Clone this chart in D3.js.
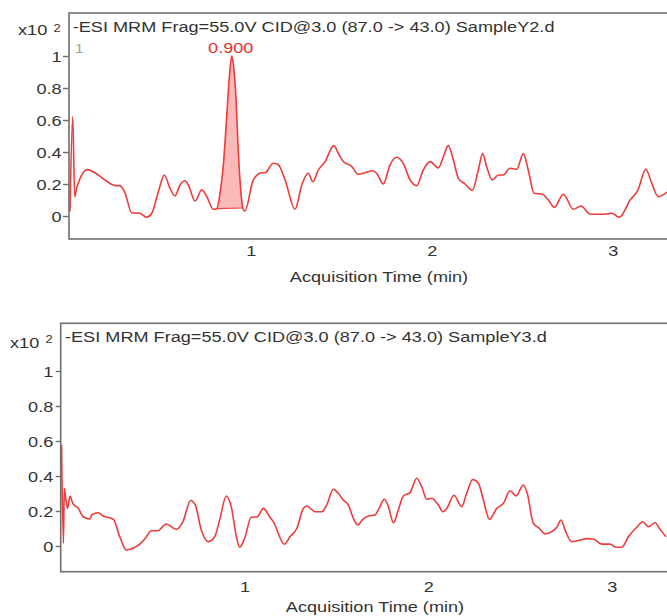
<!DOCTYPE html>
<html>
<head>
<meta charset="utf-8">
<script src="https://cdn.jsdelivr.net/npm/d3@7"></script>
<style>
  body { margin: 0; background: #fff; }
  svg text { font-family: "Liberation Sans", Arial, sans-serif; fill: #333; }
</style>
</head>
<body>
<div id="chart"></div>
<script>
// acquisition time (min) and abundance (x10^2 counts) for each sample
const timeY2 = [0.000, 0.015, 0.026, 0.037, 0.097, 0.138, 0.193, 0.249, 0.276, 0.304,
  0.341, 0.387, 0.424, 0.452, 0.488, 0.521, 0.553, 0.580, 0.608, 0.636,
  0.658, 0.691, 0.728, 0.756, 0.792, 0.811, 0.829, 0.847, 0.866, 0.881,
  0.894, 0.903, 0.918, 0.930, 0.944, 0.955, 0.967, 1.013, 1.060, 1.078,
  1.124, 1.152, 1.189, 1.244, 1.281, 1.317, 1.342, 1.373, 1.410, 1.459,
  1.483, 1.511, 1.557, 1.594, 1.631, 1.668, 1.695, 1.732, 1.769, 1.806,
  1.842, 1.880, 1.917, 1.953, 1.990, 2.036, 2.064, 2.091, 2.119, 2.147,
  2.184, 2.224, 2.257, 2.281, 2.303, 2.334, 2.368, 2.395, 2.432, 2.469,
  2.506, 2.533, 2.565, 2.611, 2.644, 2.677, 2.727, 2.782, 2.825, 2.874,
  2.920, 2.967, 2.995, 3.037, 3.096, 3.138, 3.183, 3.216, 3.252, 3.300];
const valueY2 = [0.03, 0.62, 0.12, 0.175, 0.29, 0.27, 0.225, 0.19, 0.19, 0.145,
  0.02, 0.017, -0.008, 0.017, 0.15, 0.256, 0.173, 0.125, 0.194, 0.22,
  0.183, 0.094, 0.163, 0.121, 0.042, 0.046, 0.14, 0.31, 0.62, 0.87,
  1.0, 0.95, 0.725, 0.41, 0.16, 0.05, 0.031, 0.225, 0.27, 0.27,
  0.33, 0.32, 0.225, 0.042, 0.194, 0.267, 0.215, 0.288, 0.34, 0.44,
  0.392, 0.34, 0.31, 0.26, 0.27, 0.283, 0.267, 0.2, 0.32, 0.367,
  0.329, 0.225, 0.19, 0.288, 0.34, 0.3, 0.37, 0.44, 0.35, 0.235,
  0.2, 0.16, 0.288, 0.39, 0.308, 0.225, 0.256, 0.256, 0.298, 0.292,
  0.39, 0.288, 0.142, 0.136, 0.1, 0.054, 0.136, 0.042, 0.0625, 0.0125,
  0.011, 0.0125, 0.017, -0.008, 0.1, 0.158, 0.292, 0.204, 0.121, 0.15];

const timeY3 = [0.003, 0.013, 0.018, 0.027, 0.036, 0.049, 0.064, 0.094, 0.121, 0.158,
  0.167, 0.203, 0.230, 0.285, 0.320, 0.356, 0.392, 0.429, 0.459, 0.492,
  0.528, 0.573, 0.628, 0.664, 0.706, 0.731, 0.764, 0.801, 0.837, 0.864,
  0.900, 0.927, 0.955, 0.973, 1.000, 1.036, 1.069, 1.102, 1.138, 1.156,
  1.216, 1.247, 1.284, 1.320, 1.338, 1.383, 1.420, 1.447, 1.483, 1.510,
  1.537, 1.565, 1.592, 1.616, 1.641, 1.674, 1.710, 1.732, 1.761, 1.783,
  1.810, 1.837, 1.864, 1.901, 1.937, 1.964, 1.992, 2.019, 2.055, 2.079,
  2.101, 2.140, 2.182, 2.209, 2.242, 2.273, 2.300, 2.333, 2.373, 2.409,
  2.445, 2.478, 2.518, 2.539, 2.572, 2.605, 2.636, 2.672, 2.700, 2.723,
  2.745, 2.781, 2.817, 2.863, 2.899, 2.945, 2.990, 3.021, 3.054, 3.090,
  3.135, 3.168, 3.198, 3.235, 3.262, 3.295];
const valueY3 = [0.577, 0.015, 0.33, 0.26, 0.215, 0.286, 0.244, 0.215, 0.167, 0.154,
  0.177, 0.19, 0.171, 0.153, 0.053, -0.023, -0.013, 0.011, 0.044, 0.087,
  0.087, 0.126, 0.095, 0.139, 0.26, 0.235, 0.091, 0.025, 0.053, 0.149,
  0.286, 0.225, 0.053, -0.007, 0.044, 0.164, 0.167, 0.215, 0.164, 0.139,
  0.011, 0.053, 0.1, 0.215, 0.229, 0.196, 0.196, 0.234, 0.324, 0.301,
  0.263, 0.234, 0.158, 0.12, 0.149, 0.171, 0.177, 0.215, 0.267, 0.225,
  0.133, 0.206, 0.286, 0.305, 0.387, 0.339, 0.267, 0.273, 0.234, 0.196,
  0.215, 0.29, 0.225, 0.301, 0.38, 0.358, 0.263, 0.152, 0.215, 0.244,
  0.316, 0.286, 0.349, 0.301, 0.13, 0.101, 0.069, 0.082, 0.107, 0.149,
  0.091, 0.025, 0.031, 0.042, 0.04, 0.011, 0.011, -0.007, -0.007, 0.053,
  0.107, 0.139, 0.11, 0.133, 0.095, 0.053];

const yTicks = [0, 0.2, 0.4, 0.6, 0.8, 1];
const xTicks = [1, 2, 3];
const titleY2 = "-ESI MRM Frag=55.0V CID@3.0 (87.0 -> 43.0) SampleY2.d";
const titleY3 = "-ESI MRM Frag=55.0V CID@3.0 (87.0 -> 43.0) SampleY3.d";

// integrated peak in SampleY2
const peakStart = 0.811, peakEnd = 0.955;
const peakBase = [0.046, 0.05];
const peakTime = 0.894;
const peakLabel = "0.900";

const SX = 1.17; // the original picture is stretched sideways a bit
const FONT = 15.5;

const svg = d3.select("#chart")
  .append("svg")
  .attr("width", 667)
  .attr("height", 616);

function stretchText(g, x, y, str, size, anchor, color) {
  return g.append("text")
    .attr("transform", "translate(" + x + "," + y + ") scale(" + SX + ",1)")
    .attr("text-anchor", anchor || "start")
    .style("font-size", size + "px")
    .style("fill", color || "#333")
    .text(str);
}

function drawPanel(p) {
  let x = d3.scaleLinear().domain([0, 3.3]).range([p.x0, 667]);
  let y = d3.scaleLinear().domain([0, 1]).range([p.yZero, p.yOne]);
  let data = p.times.map((t, i) => ({ t: t, v: p.values[i] }));

  let g = svg.append("g");

  g.append("clipPath")
    .attr("id", "clip" + p.id)
    .append("rect")
    .attr("x", p.left)
    .attr("y", p.top)
    .attr("width", 700 - p.left)
    .attr("height", p.bottom - p.top);

  let plot = g.append("g").attr("clip-path", "url(#clip" + p.id + ")");

  let line = d3.line()
    .x((d) => x(d.t))
    .y((d) => y(d.v))
    .curve(d3.curveMonotoneX);

  if (p.peak) {
    let base = (t) => peakBase[0] + (peakBase[1] - peakBase[0]) * (t - peakStart) / (peakEnd - peakStart);
    let peakData = data.filter((d) => d.t >= peakStart && d.t <= peakEnd);
    let area = d3.area()
      .x((d) => x(d.t))
      .y0((d) => y(base(d.t)))
      .y1((d) => y(d.v))
      .curve(d3.curveMonotoneX);
    plot.append("path")
      .datum(peakData)
      .attr("d", area)
      .attr("fill", "#f9b9b9");
    plot.append("line")
      .attr("x1", x(peakStart)).attr("y1", y(peakBase[0]))
      .attr("x2", x(peakEnd)).attr("y2", y(peakBase[1]))
      .attr("stroke", "#ee4545")
      .attr("stroke-width", 1.2);
  }

  plot.append("path")
    .datum(data)
    .attr("d", line)
    .attr("fill", "none")
    .attr("stroke", "#ee3b3b")
    .attr("stroke-width", 1.6);

  // frame (right side runs off the picture)
  g.append("rect")
    .attr("x", p.left)
    .attr("y", p.top)
    .attr("width", 720 - p.left)
    .attr("height", p.bottom - p.top)
    .attr("fill", "none")
    .attr("stroke", "#6e6e6e")
    .attr("stroke-width", 1.6);

  let yAxis = g.append("g")
    .attr("transform", "translate(" + p.left + ",0)")
    .call(d3.axisLeft(y).tickValues(yTicks).tickSize(p.tick).tickFormat((d) => String(d)));
  yAxis.select(".domain").remove();
  yAxis.selectAll("line").attr("stroke", "#6e6e6e").attr("stroke-width", 1.4);
  yAxis.selectAll("text")
    .attr("x", 0)
    .attr("dy", "0.36em")
    .attr("transform", "translate(" + (-p.yGap) + ",0) scale(" + SX + ",1)")
    .style("font-size", FONT + "px");

  let xAxis = g.append("g")
    .attr("transform", "translate(0," + p.bottom + ")")
    .call(d3.axisBottom(x).tickValues(xTicks).tickSize(0).tickFormat((d) => String(d)));
  xAxis.select(".domain").remove();
  xAxis.selectAll("text")
    .attr("y", p.xLabelY)
    .attr("dy", 0)
    .attr("transform", "scale(" + SX + ",1)")
    .style("font-size", FONT + "px");

  stretchText(g, p.axisTitleX, p.axisTitleY, "Acquisition Time (min)", FONT, "middle");
  stretchText(g, p.left + p.titleDx, p.titleY, p.title, FONT);
  stretchText(g, p.multX, p.multY, "x10", FONT);
  stretchText(g, p.multX + 35.5, p.multY - p.supDy, "2", 11);

  if (p.peak) {
    stretchText(g, x(peakTime) - 1, 53, peakLabel, FONT, "middle", "#e8312f");
    stretchText(g, p.left + 6, 53, "1", 13, "start", "#9a9a9a");
  }
}

drawPanel({
  id: "Y2", times: timeY2, values: valueY2, title: titleY2, peak: true,
  left: 69, top: 13, bottom: 239, x0: 70, yZero: 216, yOne: 56,
  tick: 6, yGap: 7.3, xLabelY: 17,
  axisTitleX: 379, axisTitleY: 281.5,
  titleDx: 3.7, titleY: 31.5,
  multX: 18, multY: 35, supDy: 3.3
});

drawPanel({
  id: "Y3", times: timeY3, values: valueY3, title: titleY3, peak: false,
  left: 60.7, top: 323.3, bottom: 571.7, x0: 61, yZero: 546, yOne: 371,
  tick: 5, yGap: 7.4, xLabelY: 20,
  axisTitleX: 375, axisTitleY: 611.7,
  titleDx: 4.3, titleY: 341.7,
  multX: 10, multY: 348.3, supDy: 5
});
</script>
</body>
</html>
